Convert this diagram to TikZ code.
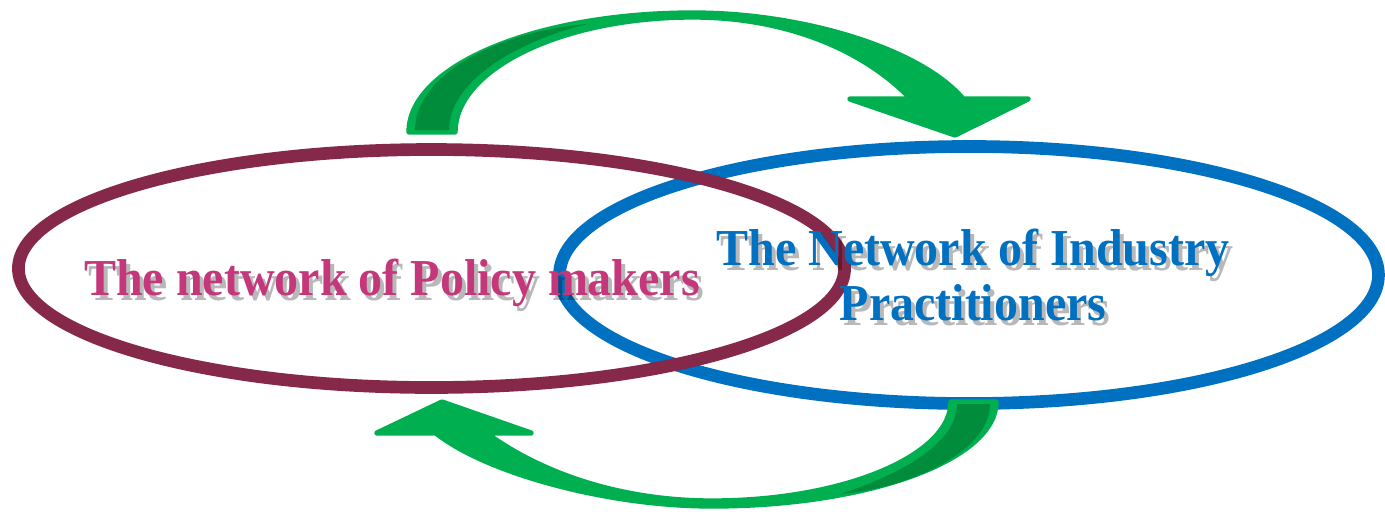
\documentclass[tikz,border=0pt]{standalone}
\usepackage{fontspec}
\setmainfont{Liberation Serif}
\definecolor{ellred}{RGB}{133,40,73}
\definecolor{ellblue}{RGB}{0,112,192}
\definecolor{txtpink}{RGB}{196,55,122}
\definecolor{arrgreen}{RGB}{0,176,80}
\definecolor{arrdark}{RGB}{0,140,58}
\tikzset{
  ellstroke/.style={line width=9.5pt},
  arrowshape/.style={fill=arrgreen, draw=arrgreen, line width=4pt, line join=round},
  arrowunder/.style={fill=arrdark},
  label/.style={inner sep=0pt, anchor=base, font=\bfseries\fontsize{36}{40}\selectfont},
  shadowlabel/.style={label, text=black, opacity=0.28}
}
\begin{document}
\begin{tikzpicture}[x=0.75pt,y=-0.75pt]
\useasboundingbox (0,0) rectangle (1385,511);
% ellipses
\draw[ellstroke, ellblue] (969,275) ellipse [x radius=307.1pt, y radius=96.4pt];
\draw[ellstroke, ellred] (431.5,268.5) ellipse [x radius=309.8pt, y radius=89.25pt];
% top arrow
\filldraw[arrowshape] (409,132) .. controls (409,66) and (536,13) .. (693,13) .. controls (805,13) and (922,50) .. (963,99) -- (1028,99) -- (955,135) -- (850,99) -- (911,99) .. controls (860,46) and (780,17) .. (693,17) .. controls (560,17) and (455,70) .. (455,132) -- cycle;
\fill[arrowunder] (415,130) .. controls (415,72) and (505,30) .. (588,24) .. controls (520,40) and (449,80) .. (449,130) -- cycle;
% bottom arrow
\filldraw[arrowshape] (996,402) .. controls (996,459) and (870,506) .. (712,506) .. controls (605,506) and (485,472) .. (436,433) -- (377,433) -- (442,402) -- (531,433) -- (486,433) .. controls (545,476) and (625,501) .. (712,501) .. controls (845,501) and (951,455) .. (951,402) -- cycle;
\fill[arrowunder] (990,404) .. controls (990,455) and (900,490) .. (840,494) .. controls (890,478) and (957,447) .. (957,404) -- cycle;
% text shadows
\node[shadowlabel] (policyshadow) at (396,300) {\scalebox{1}[1.08]{The network of Policy makers}};
\node[shadowlabel] (industryshadow1) at (977,270) {\scalebox{1}[1.08]{The Network of Industry}};
\node[shadowlabel] (industryshadow2) at (977,325) {\scalebox{1}[1.08]{Practitioners}};
% texts
\node[label, text=txtpink] (policy) at (392,295) {\scalebox{1}[1.08]{The network of Policy makers}};
\node[label, text=ellblue] (industry1) at (973,265) {\scalebox{1}[1.08]{The Network of Industry}};
\node[label, text=ellblue] (industry2) at (973,320) {\scalebox{1}[1.08]{Practitioners}};
\end{tikzpicture}
\end{document}
